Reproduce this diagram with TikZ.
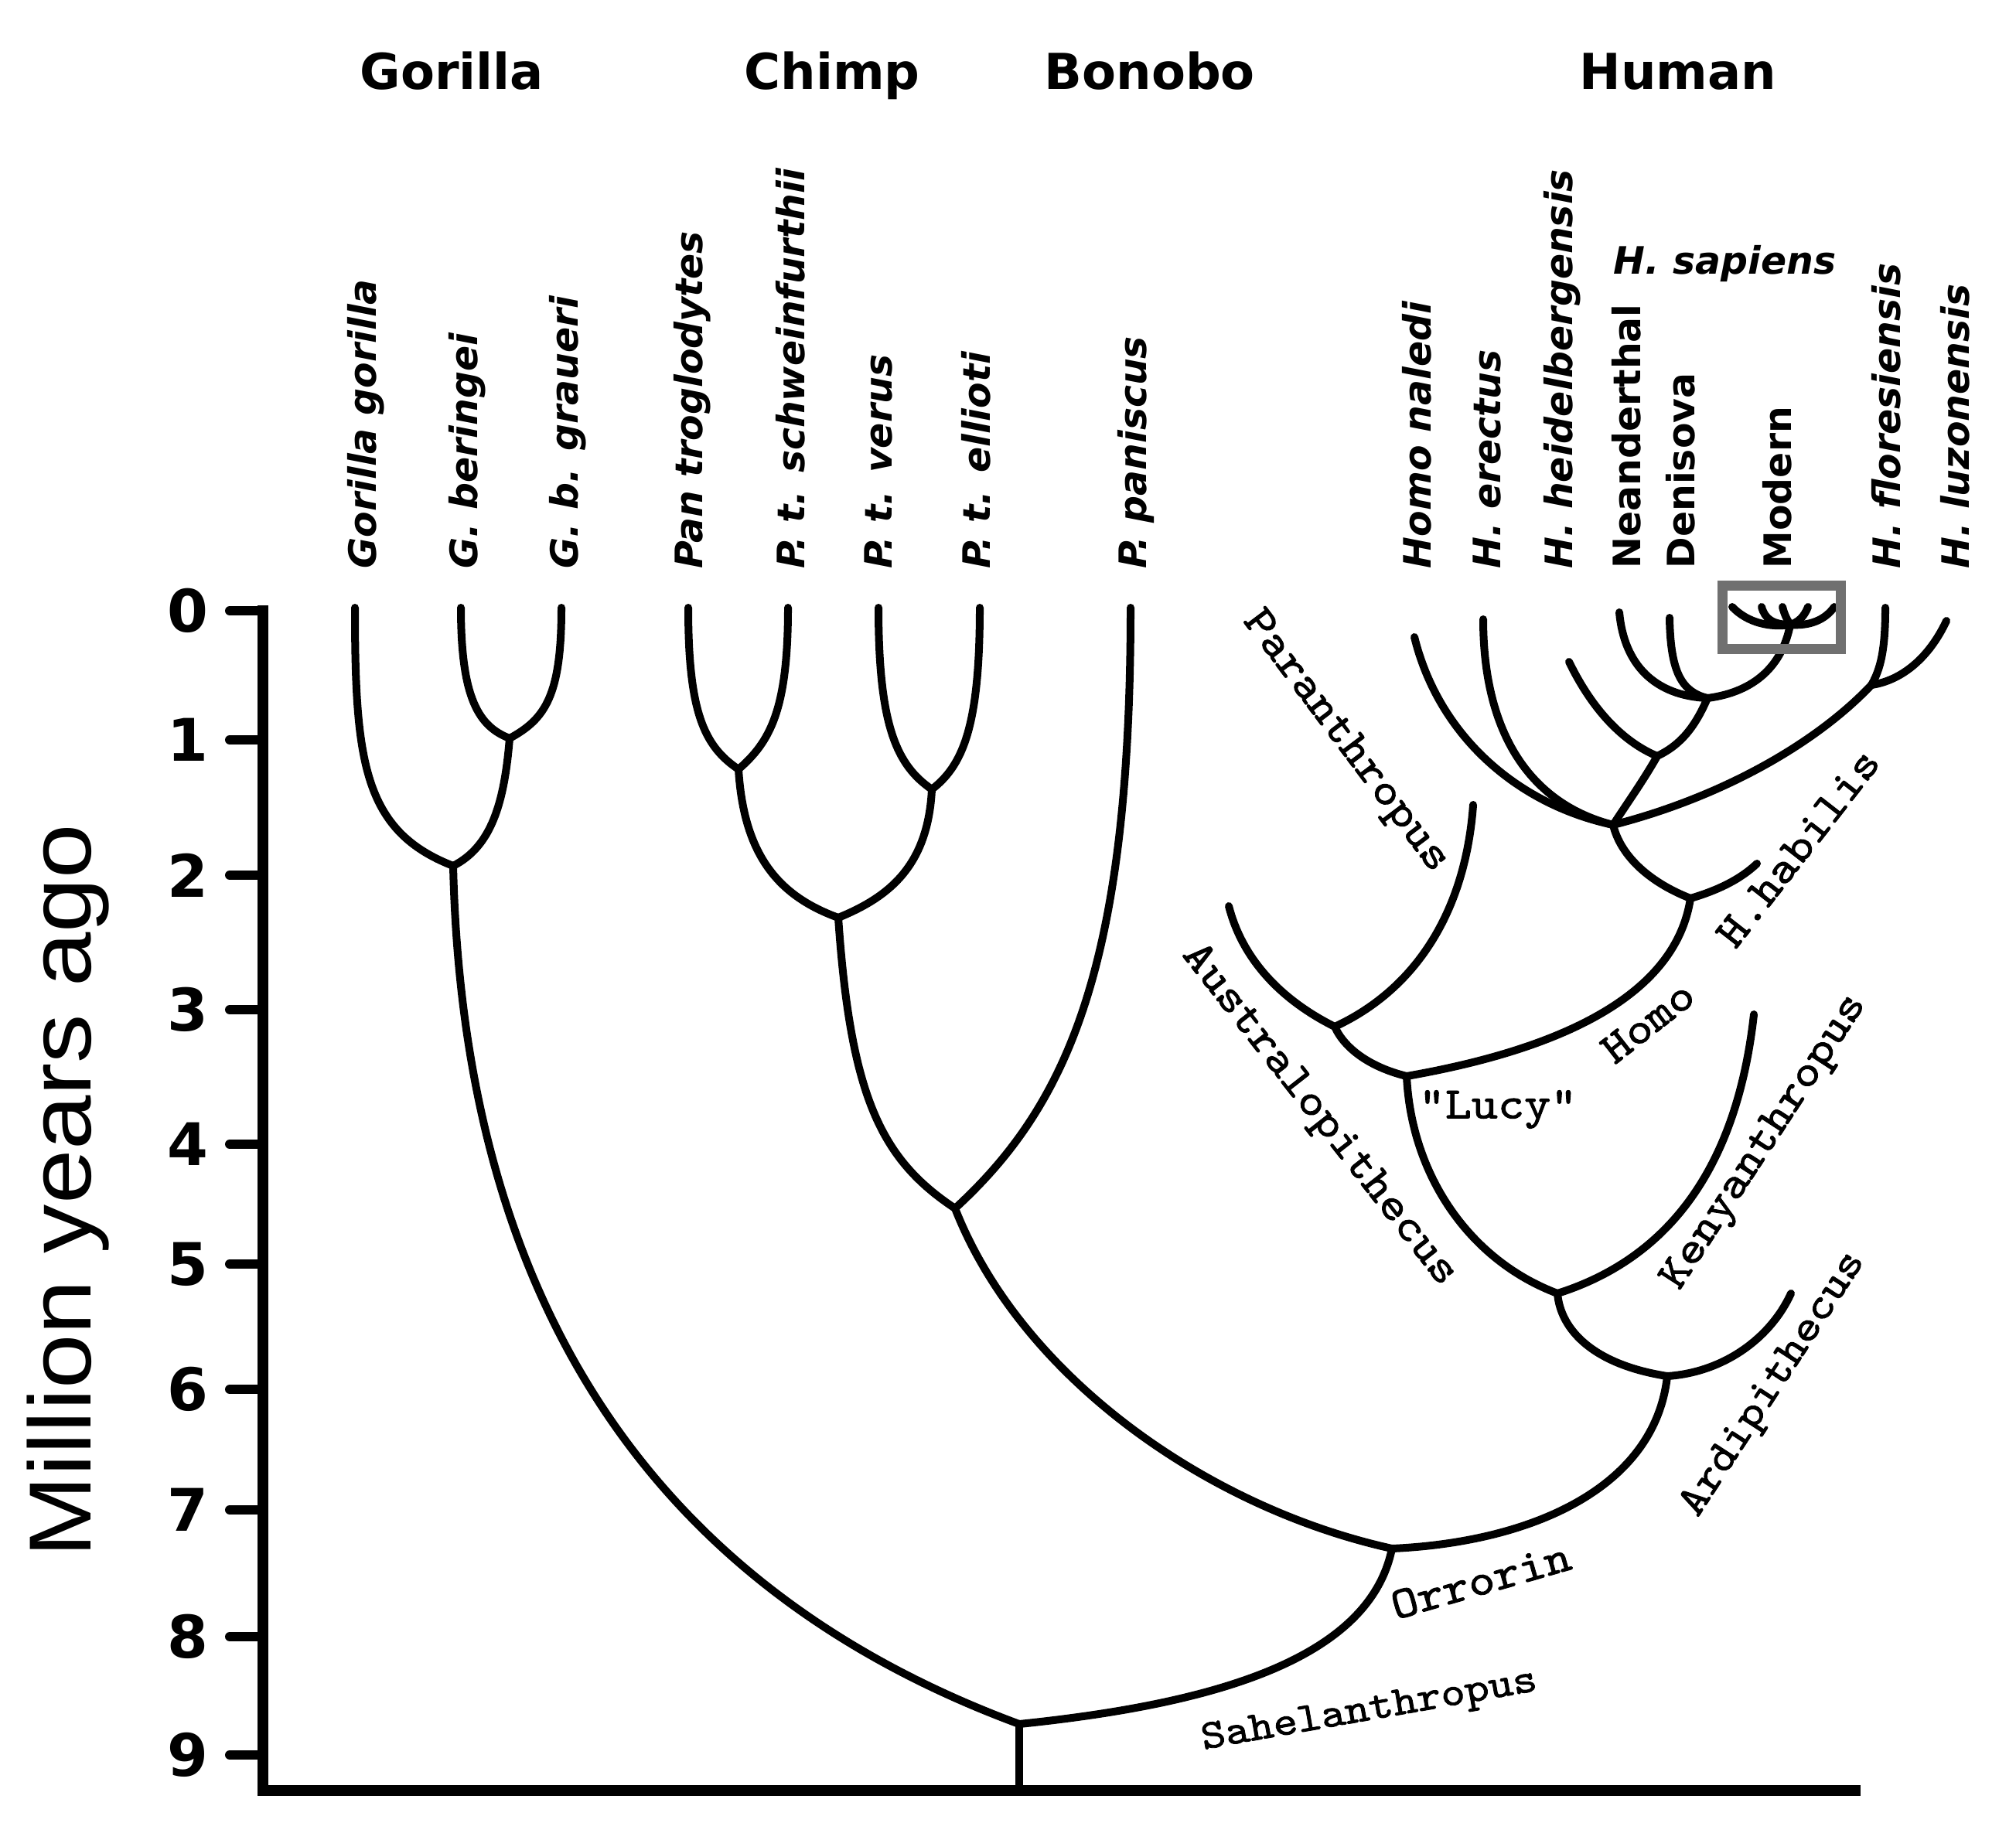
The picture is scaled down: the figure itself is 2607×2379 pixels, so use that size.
\documentclass[tikz,border=0pt]{standalone}
\usepackage{fontspec}
\usepackage{graphicx}
\newfontfamily\hdfont{DejaVu Sans Bold}
\newfontfamily\spfont{DejaVu Sans Bold Oblique}
\newfontfamily\lsfont{Liberation Sans}
\newfontfamily\cmono{lmmono10-regular.otf}[FakeStretch=1.12, FakeBold=1.6]
\tikzset{
  br/.style={line width=0.10cm, line cap=round, line join=round},
  ax/.style={line width=0.14cm, line join=miter},
  tk/.style={line width=0.12cm, line cap=round},
  boxs/.style={line width=0.13cm, draw={rgb,255:red,112;green,112;blue,112}},
  hd/.style={font=\hdfont\fontsize{18.2}{20}\selectfont, anchor=base west, inner sep=0},
  sp/.style={font=\spfont\fontsize{13.9}{15}\selectfont, rotate=90, anchor=base west, inner sep=0},
  spu/.style={font=\hdfont\fontsize{13.9}{15}\selectfont, rotate=90, anchor=base west, inner sep=0},
  num/.style={font=\hdfont\fontsize{21.6}{22}\selectfont, inner sep=0},
  mono/.style={font=\cmono\fontsize{16.5}{17}\selectfont, inner sep=0},
}
\begin{document}
\begin{tikzpicture}[x=0.01cm, y=-0.01cm]
\useasboundingbox (0,0) rectangle (2607,2379);
\fill[white] (0,0) rectangle (2607,2379);

% ---------- axis ----------
\coordinate (axTop) at (340,783);
\coordinate (axO) at (340,2316);
\coordinate (axEnd) at (2406,2316);
\draw[ax] (axTop) -- (axO) -- (axEnd);
\foreach \t/\yy in {0/790,1/957,2/1132,3/1306,4/1480,5/1635,6/1797,7/1953,8/2117,9/2270}{
  \coordinate (tk\t) at (297,\yy);
  \coordinate (tka\t) at (340,\yy);
  \draw[tk] (tk\t) -- (tka\t);
  \node[num] (num\t) at (243,\yy) {\t};
}
\node[rotate=90, inner sep=0, font=\lsfont\fontsize{32.4}{34}\selectfont] (ylab) at (88,1540) {\scalebox{1.11}[1]{Million years ago}};

% ---------- headers ----------
\node[hd] (hGor) at (465,116) {Gorilla};
\node[hd] (hChi) at (962,116) {Chimp};
\node[hd] (hBon) at (1350,116) {Bonobo};
\node[hd] (hHum) at (2042,116) {Human};

% ---------- species labels ----------
\node[sp] (lGG) at (486,736) {Gorilla gorilla};
\node[sp] (lGB) at (617,736) {G. beringei};
\node[sp] (lGBG) at (747,736) {G. b. graueri};
\node[sp] (lPT) at (908,736) {Pan troglodytes};
\node[sp] (lPTS) at (1040,736) {P. t. schweinfurthii};
\node[sp] (lPTV) at (1153,736) {P. t. verus};
\node[sp] (lPTE) at (1280,736) {P. t. ellioti};
\node[sp] (lPP) at (1482,736) {P. paniscus};
\node[sp] (lNal) at (1850,736) {Homo naledi};
\node[sp] (lEre) at (1940,736) {H. erectus};
\node[sp] (lHei) at (2033,736) {H. heidelbergensis};
\node[spu] (lNea) at (2121,736) {Neanderthal};
\node[spu] (lDen) at (2191,736) {Denisova};
\node[spu] (lMod) at (2316,736) {Modern};
\node[sp] (lFlo) at (2457,736) {H. floresiensis};
\node[sp] (lLuz) at (2546,736) {H. luzonensis};
\node[font=\spfont\fontsize{13.9}{15}\selectfont, anchor=base west, inner sep=0] (lSap) at (2086,355) {H. sapiens};

% ---------- fossil labels ----------
\node[mono, rotate=-53] (lPar) at (1739,960) {Paranthropus};
\node[mono, rotate=-52] (lAus) at (1705,1443) {Australopithecus};
\node[mono, rotate=38] (lHomo) at (2131,1322) {Homo};
\node[mono] (lLucy) at (1937,1435) {"Lucy"};
\node[mono, rotate=52] (lHab) at (2325,1097) {H.habilis};
\node[mono, rotate=57] (lKen) at (2283,1478) {Kenyanthropus};
\node[mono, rotate=57, font=\cmono\fontsize{16}{17}\selectfont] (lArd) at (2294,1791) {Ardipithecus};
\node[mono, rotate=16] (lOrr) at (1915,2045) {Orrorin};
\node[mono, rotate=10, font=\cmono\fontsize{15.2}{16}\selectfont] (lSah) at (1771,2214) {Sahelanthropus};

% ---------- tree coordinates ----------
\coordinate (tGG) at (459,786);
\coordinate (tGB) at (596,786);
\coordinate (tGBG) at (726,786);
\coordinate (nGB) at (659,955);
\coordinate (nGor) at (586,1120);
\coordinate (tPT) at (890,786);
\coordinate (tPTS) at (1019,786);
\coordinate (tPTV) at (1136,786);
\coordinate (tPTE) at (1267,786);
\coordinate (tPP) at (1462,786);
\coordinate (nPT) at (955,995);
\coordinate (nPV) at (1205,1021);
\coordinate (nChimp) at (1084,1187);
\coordinate (nPan) at (1235,1563);
\coordinate (nOrr) at (1800,2003);
\coordinate (nRoot) at (1318,2230);
\coordinate (nBase) at (1318,2316);
\coordinate (nArd) at (2156,1780);
\coordinate (tArd) at (2316,1673);
\coordinate (nKen) at (2014,1673);
\coordinate (tKen) at (2268,1312);
\coordinate (nLucy) at (1819,1392);
\coordinate (nAus) at (1726,1328);
\coordinate (tAus) at (1589,1172);
\coordinate (tPar) at (1905,1041);
\coordinate (nHomo) at (2186,1162);
\coordinate (tHab) at (2272,1117);
\coordinate (nBig) at (2086,1067);
\coordinate (tNal) at (1829,824);
\coordinate (tEre) at (1918,801);
\coordinate (nHei) at (2143,978);
\coordinate (tHei) at (2029,856);
\coordinate (nNDM) at (2208,903);
\coordinate (tNea) at (2094,792);
\coordinate (tDen) at (2159,799);
\coordinate (nMod) at (2315,808);
\coordinate (nFL) at (2420,886);
\coordinate (tFlo) at (2438,786);
\coordinate (tLuz) at (2517,803);
\coordinate (tM1) at (2240,785);
\coordinate (tM2) at (2278,785);
\coordinate (tM3) at (2305,785);
\coordinate (tM4) at (2338,785);
\coordinate (tM5) at (2372,785);

% ---------- gorilla ----------
\draw[br] (tGB) .. controls (596,905) and (620,940) .. (nGB);
\draw[br] (tGBG) .. controls (726,900) and (705,930) .. (nGB);
\draw[br] (nGB) .. controls (652,1040) and (635,1095) .. (nGor);
\draw[br] (tGG) .. controls (459,985) and (470,1075) .. (nGor);
\draw[br] (nGor) .. controls (600,1725) and (880,2068) .. (nRoot);

% ---------- chimp / bonobo ----------
\draw[br] (tPT) .. controls (890,920) and (910,965) .. (nPT);
\draw[br] (tPTS) .. controls (1019,920) and (995,960) .. (nPT);
\draw[br] (tPTV) .. controls (1136,940) and (1160,990) .. (nPV);
\draw[br] (tPTE) .. controls (1267,940) and (1245,990) .. (nPV);
\draw[br] (nPT) .. controls (962,1110) and (1010,1160) .. (nChimp);
\draw[br] (nPV) .. controls (1200,1120) and (1150,1160) .. (nChimp);
\draw[br] (nChimp) .. controls (1100,1420) and (1140,1500) .. (nPan);
\draw[br] (tPP) .. controls (1462,1250) and (1380,1430) .. (nPan);
\draw[br] (nPan) .. controls (1320,1780) and (1560,1950) .. (nOrr);

% ---------- root ----------
\draw[br] (nOrr) .. controls (1770,2150) and (1560,2205) .. (nRoot);
\draw[br] (nRoot) -- (nBase);

% ---------- hominins ----------
\draw[br] (nOrr) .. controls (1980,1995) and (2140,1925) .. (nArd);
\draw[br] (nArd) .. controls (2230,1775) and (2290,1730) .. (tArd);
\draw[br] (nArd) .. controls (2060,1765) and (2018,1720) .. (nKen);
\draw[br] (nKen) .. controls (2150,1630) and (2245,1520) .. (tKen);
\draw[br] (nKen) .. controls (1900,1630) and (1825,1520) .. (nLucy);
\draw[br] (nLucy) .. controls (1770,1380) and (1738,1355) .. (nAus);
\draw[br] (nAus) .. controls (1650,1290) and (1605,1235) .. (tAus);
\draw[br] (nAus) .. controls (1830,1280) and (1895,1180) .. (tPar);
\draw[br] (nLucy) .. controls (1990,1362) and (2165,1300) .. (nHomo);
\draw[br] (nHomo) .. controls (2220,1152) and (2250,1138) .. (tHab);
\draw[br] (nHomo) .. controls (2130,1140) and (2095,1105) .. (nBig);

% ---------- genus Homo ----------
\draw[br] (tNal) .. controls (1860,950) and (1960,1040) .. (nBig);
\draw[br] (tEre) .. controls (1918,950) and (1980,1040) .. (nBig);
\draw[br] (tHei) .. controls (2060,920) and (2100,960) .. (nHei);
\draw[br] (nHei) .. controls (2125,1010) and (2100,1045) .. (nBig);
\draw[br] (tNea) .. controls (2100,860) and (2140,900) .. (nNDM);
\draw[br] (tDen) .. controls (2160,870) and (2175,895) .. (nNDM);
\draw[br] (nNDM) .. controls (2270,895) and (2305,860) .. (nMod);
\draw[br] (nNDM) .. controls (2190,945) and (2170,965) .. (nHei);
\draw[br] (tFlo) .. controls (2438,840) and (2432,865) .. (nFL);
\draw[br] (tLuz) .. controls (2495,850) and (2460,880) .. (nFL);
\draw[br] (nFL) .. controls (2350,960) and (2230,1030) .. (nBig);

% ---------- modern fan ----------
\draw[br] (tM1) .. controls (2260,806) and (2290,812) .. (nMod);
\draw[br] (tM2) .. controls (2282,800) and (2292,808) .. (nMod);
\draw[br] (tM3) .. controls (2308,797) and (2312,803) .. (nMod);
\draw[br] (tM4) .. controls (2333,798) and (2325,805) .. (nMod);
\draw[br] (tM5) .. controls (2360,802) and (2340,810) .. (nMod);
\coordinate (bx1) at (2227,757);
\coordinate (bx2) at (2380,839);
\draw[boxs] (bx1) rectangle (bx2);
\end{tikzpicture}
\end{document}
